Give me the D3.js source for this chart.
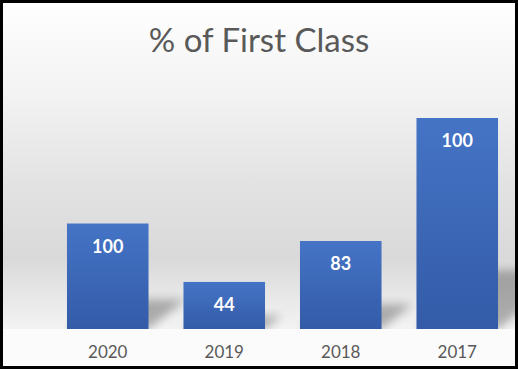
<!DOCTYPE html>
<html>
<head>
<meta charset="utf-8">
<script src="https://cdn.jsdelivr.net/npm/d3@7"></script>
<style>
  body { margin: 0; background: #fff; }
  svg { display: block; }
</style>
</head>
<body>
<script>
// Datos del gráfico
const years = ["2020", "2019", "2018", "2017"];      // categorias
const barValues = [50, 22.3, 41.7, 100];             // altura relativa de cada barra
const labels = ["100", "44", "83", "100"];           // etiquetas mostradas
const title = "% of First Class";

const [w, h] = [518, 369];
const baseY = 329;      // linea base del area de trazado

const svg = d3.select("body")
    .append("svg")
    .attr("width", w)
    .attr("height", h);

const defs = svg.append("defs");

// degradado del fondo
const bg = defs.append("linearGradient")
    .attr("id", "bg")
    .attr("x1", 0).attr("y1", 0).attr("x2", 0).attr("y2", 1);
[[0, "#ffffff"], [0.3, "#f2f2f2"], [0.55, "#e3e3e3"], [0.78, "#d9d9d9"], [1, "#f3f3f3"]]
    .forEach(s => bg.append("stop").attr("offset", s[0]).attr("stop-color", s[1]));

// degradado de las barras
const barGrad = defs.append("linearGradient")
    .attr("id", "barGrad")
    .attr("x1", 0).attr("y1", 0).attr("x2", 0).attr("y2", 1);
barGrad.append("stop").attr("offset", 0).attr("stop-color", "#4574c6");
barGrad.append("stop").attr("offset", 1).attr("stop-color", "#335ba8");

// sombra difuminada
defs.append("filter")
    .attr("id", "blur")
    .attr("x", "-50%").attr("y", "-50%").attr("width", "200%").attr("height", "200%")
    .append("feGaussianBlur")
    .attr("stdDeviation", 5);

defs.append("clipPath").attr("id", "clip")
    .append("rect").attr("x", 0).attr("y", 0).attr("width", w).attr("height", baseY);

// fondo general
svg.append("rect")
    .attr("width", w).attr("height", h)
    .attr("fill", "#fbfbfb");

svg.append("rect")
    .attr("width", w).attr("height", baseY)
    .attr("fill", "url(#bg)");

// Escalas
const xScale = d3.scaleBand()
    .domain(years)
    .range([49.5, 515.5])
    .paddingInner(0.3)
    .paddingOuter(0.15);

const yScale = d3.scaleLinear()
    .domain([0, 100])
    .range([baseY, 118]);

const data = years.map((y, i) => ({ year: y, value: barValues[i], label: labels[i] }));

// sombras en perspectiva
svg.append("g")
    .attr("clip-path", "url(#clip)")
    .selectAll("polygon")
    .data(data)
    .enter()
    .append("polygon")
    .attr("points", d => {
        const x0 = xScale(d.year), x1 = x0 + xScale.bandwidth();
        const bh = baseY - yScale(d.value);
        const dx = bh * 0.35, dy = bh * 0.28;
        return [[x0, baseY], [x1, baseY], [x1 + dx, baseY - dy], [x0 + dx, baseY - dy]].join(" ");
    })
    .attr("fill", "#000")
    .attr("opacity", 0.28)
    .attr("filter", "url(#blur)");

// barras
svg.selectAll(".bar")
    .data(data)
    .enter()
    .append("rect")
    .attr("class", "bar")
    .attr("x", d => xScale(d.year))
    .attr("y", d => yScale(d.value))
    .attr("width", xScale.bandwidth())
    .attr("height", d => baseY - yScale(d.value))
    .attr("fill", "url(#barGrad)");

// etiquetas de datos
svg.selectAll(".lbl")
    .data(data)
    .enter()
    .append("text")
    .attr("class", "lbl")
    .attr("x", d => xScale(d.year) + xScale.bandwidth() / 2)
    .attr("y", d => yScale(d.value) + 29)
    .attr("text-anchor", "middle")
    .attr("font-family", "Lato, 'Open Sans', sans-serif")
    .attr("font-weight", "bold")
    .attr("font-size", 18)
    .attr("fill", "#ffffff")
    .text(d => d.label);

// eje X
const xAxis = d3.axisBottom(xScale).tickSize(0).tickPadding(0);
const gx = svg.append("g")
    .attr("transform", "translate(0," + baseY + ")")
    .call(xAxis);
gx.select(".domain").remove();
gx.selectAll("text")
    .attr("dy", 0)
    .attr("y", 29)
    .attr("font-family", "Lato, 'Open Sans', sans-serif")
    .attr("font-size", 17)
    .attr("fill", "#595959");

// titulo
svg.append("text")
    .attr("x", w / 2)
    .attr("y", 52)
    .attr("text-anchor", "middle")
    .attr("font-family", "Lato, 'Open Sans', sans-serif")
    .attr("font-size", 33)
    .attr("fill", "#595959")
    .text(title);

// borde
svg.append("rect")
    .attr("x", 1.5).attr("y", 1.5)
    .attr("width", w - 3).attr("height", h - 3)
    .attr("fill", "none")
    .attr("stroke", "#000")
    .attr("stroke-width", 3);
</script>
</body>
</html>
